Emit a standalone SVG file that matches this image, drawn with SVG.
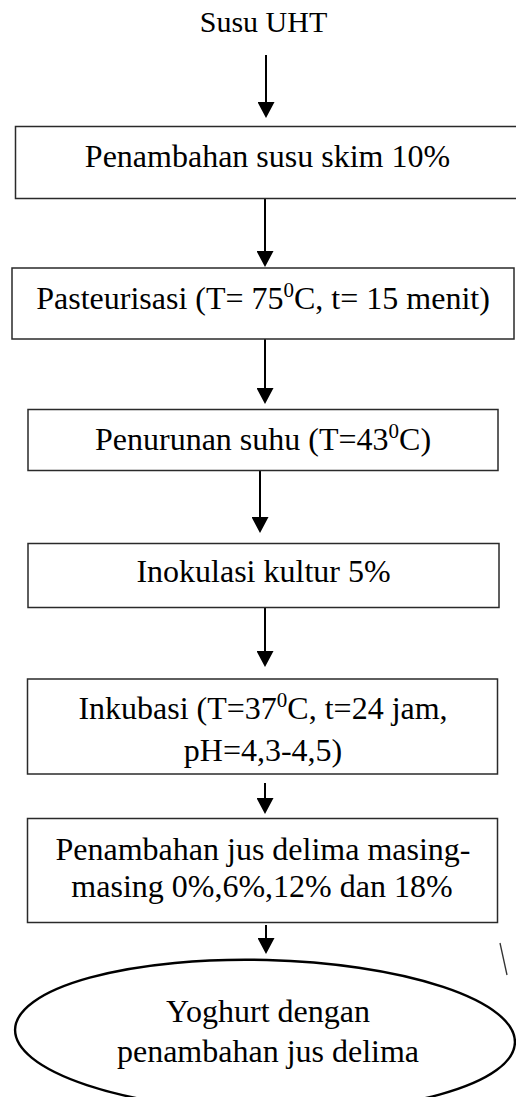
<svg xmlns="http://www.w3.org/2000/svg" width="516" height="1097" viewBox="0 0 516 1097">
<style>
text{font-family:"Liberation Serif","Times New Roman",serif;font-size:32px;fill:#000;text-anchor:middle}
.box{fill:#fff;stroke:#2a2a2a;stroke-width:1.5}
.conn{stroke:#000;stroke-width:2;fill:none}
.sup{font-size:21px}
</style>
<defs>
<marker id="ah" markerUnits="userSpaceOnUse" markerWidth="17" markerHeight="17" viewBox="0 0 16 17" refX="0" refY="8.5" orient="auto">
<path d="M0,0 L16,8.5 L0,17 Z" fill="#000"/>
</marker>
</defs>
<rect width="516" height="1097" fill="#fff"/>
<g id="connectors">
<line class="conn" x1="266" y1="55" x2="266" y2="102" marker-end="url(#ah)"/>
<line class="conn" x1="265" y1="199" x2="265" y2="251" marker-end="url(#ah)"/>
<line class="conn" x1="265" y1="339" x2="265" y2="388" marker-end="url(#ah)"/>
<line class="conn" x1="260" y1="471" x2="260" y2="517" marker-end="url(#ah)"/>
<line class="conn" x1="265" y1="604" x2="265" y2="651" marker-end="url(#ah)"/>
<line class="conn" x1="265" y1="783" x2="265" y2="798" marker-end="url(#ah)"/>
<line class="conn" x1="266" y1="925" x2="266" y2="938" marker-end="url(#ah)"/>
</g>
<g id="start">
<text x="263.5" y="32" style="font-size:30px">Susu UHT</text>
</g>
<g id="n1">
<rect class="box" x="15.5" y="126.5" width="506" height="72"/>
<text x="267.5" y="167">Penambahan susu skim 10%</text>
</g>
<g id="n2">
<rect class="box" x="12" y="268" width="502" height="71"/>
<text x="263" y="309">Pasteurisasi (T= 75<tspan class="sup" dy="-12">0</tspan><tspan dy="12">C, t= 15 menit)</tspan></text>
</g>
<g id="n3">
<rect class="box" x="28" y="409.5" width="470" height="61"/>
<text x="263" y="450">Penurunan suhu (T=43<tspan class="sup" dy="-12">0</tspan><tspan dy="12">C)</tspan></text>
</g>
<g id="n4">
<rect class="box" x="28" y="543.5" width="471" height="64"/>
<text x="263.5" y="582">Inokulasi kultur 5%</text>
</g>
<g id="n5">
<rect class="box" x="27.5" y="679" width="470" height="95"/>
<text x="263" y="719">Inkubasi (T=37<tspan class="sup" dy="-12">0</tspan><tspan dy="12">C, t=24 jam,</tspan></text>
<text x="263" y="761">pH=4,3-4,5)</text>
</g>
<g id="n6">
<rect class="box" x="27.5" y="818.5" width="470" height="104"/>
<text x="263" y="860">Penambahan jus delima masing-</text>
<text x="262" y="897">masing 0%,6%,12% dan 18%</text>
</g>
<g id="end">
<ellipse cx="265" cy="1036" rx="250" ry="76" transform="rotate(1.5 265 1036)" fill="#fff" stroke="#000" stroke-width="2.4"/>
<text x="268" y="1022">Yoghurt dengan</text>
<text x="268" y="1062">penambahan jus delima</text>
</g>
<line x1="500" y1="943" x2="507" y2="975" stroke="#333" stroke-width="1.3"/>
</svg>
